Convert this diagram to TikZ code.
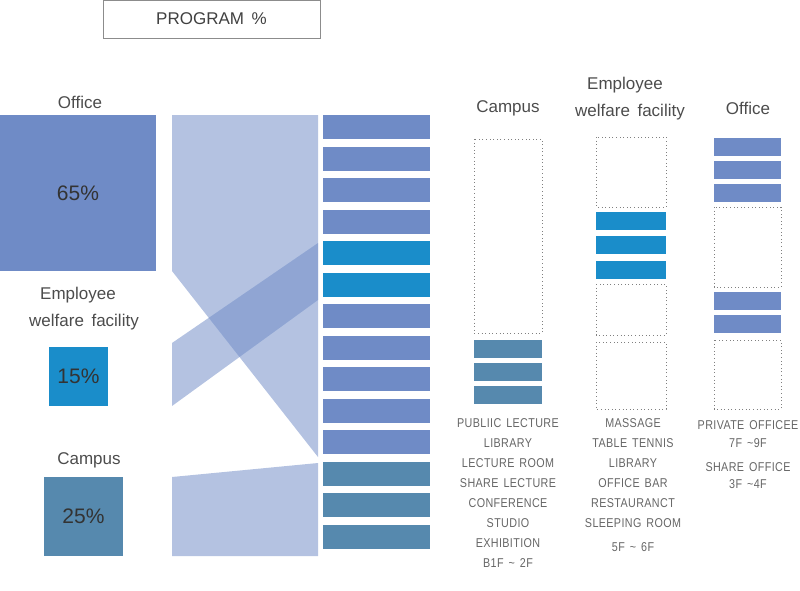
\documentclass[tikz,border=0pt]{standalone}
\usepackage{fontspec}
\setmainfont{Liberation Sans}
\newfontfamily\listfont[FakeStretch=0.84,LetterSpace=3]{Liberation Sans}
\newcommand{\wsp}{\hspace{5pt}}
\begin{document}
\begin{tikzpicture}[x=1pt,y=-1pt,
  every node/.style={inner sep=0pt,outer sep=0pt},
  lbl/.style={font=\fontsize{17}{19}\selectfont,text=black!70},
  pct/.style={font=\fontsize{21}{23}\selectfont,text=black!80},
  lst/.style={font=\listfont\fontsize{12.8}{14}\selectfont,text=black!60},
  mbar/.style={minimum width=107pt,minimum height=24pt},
  dotbox/.style={draw=black!50,line width=1pt,dash pattern=on 0.9pt off 2.7pt},
  band/.style={fill=officec,fill opacity=0.52}]
\definecolor{officec}{HTML}{6F8BC6}
\definecolor{welfc}{HTML}{1A8DCA}
\definecolor{campc}{HTML}{5689AE}
\useasboundingbox (0,0) rectangle (800,590);

% title
\node[draw=black!45,line width=0.8pt,minimum width=217pt,minimum height=38pt,font=\fontsize{17}{19}\selectfont,text=black!75] (title) at (211.5,19) {PROGRAM\, \%};

% left squares
\node[lbl] (lofc) at (80,102) {Office};
\node[fill=officec,minimum width=156pt,minimum height=156pt] (sofc) at (78,193) {};
\node[pct] at (sofc.center) {65\%};
\node[lbl] (lwel1) at (78,295) {Employee};
\node[lbl] (lwel2) at (84,322) {welfare\,\ facility};
\node[fill=welfc,minimum width=59pt,minimum height=59pt] (swel) at (78.5,376.5) {};
\node[pct] at (swel.center) {15\%};
\node[lbl] (lcam) at (89,460) {Campus};
\node[fill=campc,minimum width=79pt,minimum height=79pt] (scam) at (83.5,516.5) {};
\node[pct] at (scam.center) {25\%};

% bands
\fill[band] (172,115) -- (318,115) -- (318,457) -- (172,271) -- cycle;
\fill[band] (172,343) -- (318,243) -- (318,300) -- (172,406) -- cycle;
\fill[band] (172,477) -- (318,463) -- (318,556) -- (172,556) -- cycle;

% middle bars
\foreach \i/\c in {0/officec,1/officec,2/officec,3/officec,4/welfc,5/welfc,6/officec,7/officec,8/officec,9/officec,10/officec,11/campc,12/campc,13/campc}{
  \node[mbar,fill=\c] (m\i) at (376.5,{127+\i*31.54}) {};
}

% right headings
\node[lbl] (hcam) at (508,108) {Campus};
\node[lbl] (hwel1) at (625,85) {Employee};
\node[lbl] (hwel2) at (630,112) {welfare\,\ facility};
\node[lbl] (hofc) at (748,108) {Office};

% campus column
\draw[dotbox] (474,139) rectangle (542,333);
\fill[campc] (474,340) rectangle (542,358);
\fill[campc] (474,363) rectangle (542,381);
\fill[campc] (474,386) rectangle (542,404);

% welfare column
\draw[dotbox] (596,137) rectangle (666,207);
\fill[welfc] (596,212) rectangle (666,230);
\fill[welfc] (596,236) rectangle (666,254);
\fill[welfc] (596,261) rectangle (666,279);
\draw[dotbox] (596,284) rectangle (666,335);
\draw[dotbox] (596,342) rectangle (666,409);

% office column
\fill[officec] (714,138) rectangle (781,156);
\fill[officec] (714,161) rectangle (781,179);
\fill[officec] (714,184) rectangle (781,202);
\draw[dotbox] (714,207) rectangle (781,287);
\fill[officec] (714,292) rectangle (781,310);
\fill[officec] (714,315) rectangle (781,333);
\draw[dotbox] (714,340) rectangle (781,409);

% lists
\foreach \t [count=\k from 0] in {PUBLIIC\wsp LECTURE,LIBRARY,LECTURE\wsp ROOM,SHARE\wsp LECTURE,CONFERENCE,STUDIO,EXHIBITION,B1F\wsp\textasciitilde\wsp 2F}{
  \node[lst] (c\k) at (508,{423+\k*20}) {\t};
}
\foreach \t [count=\k from 0] in {MASSAGE,TABLE\wsp TENNIS,LIBRARY,OFFICE\wsp BAR,RESTAURANCT,SLEEPING\wsp ROOM}{
  \node[lst] (w\k) at (633,{423+\k*20}) {\t};
}
\node[lst] (w6) at (633,547) {5F\wsp\textasciitilde\wsp 6F};
\node[lst] (o0) at (748,425) {PRIVATE\wsp OFFICEE};
\node[lst] (o1) at (748,443) {7F\wsp\textasciitilde9F};
\node[lst] (o2) at (748,467) {SHARE\wsp OFFICE};
\node[lst] (o3) at (748,484) {3F\wsp\textasciitilde4F};
\end{tikzpicture}
\end{document}
